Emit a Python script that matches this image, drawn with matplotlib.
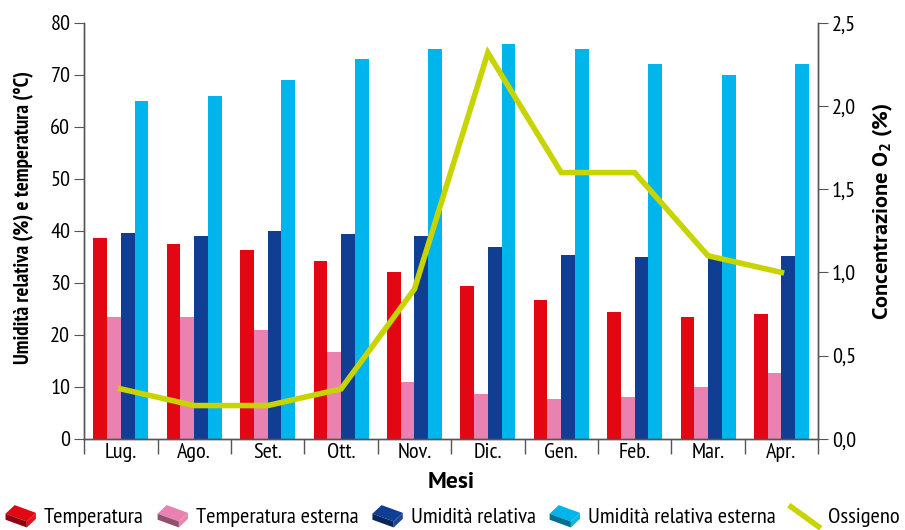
import matplotlib
matplotlib.use("Agg")
import matplotlib.pyplot as plt
import numpy as np
from matplotlib.legend_handler import HandlerBase
from matplotlib.patches import Polygon, Patch
from matplotlib.lines import Line2D
from matplotlib import colors as mcolors

plt.rcParams['font.family'] = ['PT Sans Narrow', 'DejaVu Sans']
plt.rcParams['mathtext.fontset'] = 'custom'
plt.rcParams['mathtext.rm'] = 'PT Sans'
plt.rcParams['mathtext.bf'] = 'PT Sans:bold'

months = ["Lug.", "Ago.", "Set.", "Ott.", "Nov.", "Dic.", "Gen.", "Feb.", "Mar.", "Apr."]
temperatura = [38.7, 37.5, 36.3, 34.2, 32.1, 29.4, 26.7, 24.4, 23.5, 24.0]
temp_esterna = [23.5, 23.5, 21.0, 16.7, 11.0, 8.7, 7.7, 8.1, 10.0, 12.7]
umidita = [39.6, 39.0, 40.0, 39.4, 39.0, 36.9, 35.4, 35.0, 35.0, 35.2]
umidita_esterna = [65, 66, 69, 73, 75, 76, 75, 72, 70, 72]
ossigeno = [0.3, 0.2, 0.2, 0.3, 0.9, 2.32, 1.6, 1.6, 1.1, 1.0]

labels = ["Temperatura", "Temperatura esterna", "Umidità relativa", "Umidità relativa esterna"]
cols = ["#e30613", "#ea82b1", "#0f3e92", "#00b5ec"]
line_col = "#c8d400"

FS = 16

fig = plt.figure(figsize=(9.05, 5.3), dpi=100)
ax = fig.add_axes([0.093, 0.172, 0.811, 0.785])
ax2 = ax.twinx()

x = np.arange(len(months))
w = 0.1875
series = [temperatura, temp_esterna, umidita, umidita_esterna]
for i, (s, c) in enumerate(zip(series, cols)):
    ax.bar(x + (i - 1.5) * w, s, width=w, color=c, edgecolor='none', zorder=2)

ax2.plot(x, ossigeno, color=line_col, lw=4, zorder=3, solid_joinstyle='miter')

ax.set_xlim(-0.5, len(months) - 0.5)
ax.set_ylim(0, 80)
ax2.set_ylim(0, 2.5)
ax.set_yticks(np.arange(0, 81, 10))
ax2.set_yticks(np.arange(0, 2.51, 0.5))
ax2.set_yticklabels([f"{v:.1f}".replace('.', ',') for v in np.arange(0, 2.51, 0.5)])

ax.set_xticks(x)
ax.set_xticklabels(months)
ax.set_xticks(np.arange(-0.5, len(months)), minor=True)
ax.tick_params(axis='x', which='major', length=0, labelsize=FS, pad=3)
ax.tick_params(axis='x', which='minor', length=11, width=1, color='#555555')
ax.tick_params(axis='y', length=7, labelsize=FS, color='#555555', pad=3)
ax2.tick_params(axis='y', length=7, labelsize=FS, color='#555555', pad=3)

for a in (ax, ax2):
    a.spines['top'].set_visible(False)
    for sp in ('left', 'right', 'bottom'):
        a.spines[sp].set_color('#555555')
        a.spines[sp].set_linewidth(1)

ax.set_xlabel("Mesi", fontsize=17, fontweight='bold', labelpad=7, family=['PT Sans', 'DejaVu Sans'])
ax.set_ylabel("Umidità relativa (%) e temperatura (°C)", fontsize=15, fontweight='bold')
ax.yaxis.set_label_coords(-0.068, 0.531)
ax2.set_ylabel(r"Concentrazione O$_\mathbf{2}$ (%)", fontsize=16, fontweight='bold',
               family=['PT Sans', 'DejaVu Sans'])
ax2.yaxis.set_label_coords(1.071, 0.548)


class BoxHandler(HandlerBase):
    def create_artists(self, legend, orig_handle, xdescent, ydescent, width, height, fontsize, trans):
        c = np.array(mcolors.to_rgb(orig_handle.get_facecolor()))
        dark = c * 0.62
        light = np.clip(c * 0.92 + 0.06, 0, 1)
        x0, y0 = -xdescent, -ydescent
        W, H = width, height
        top = Polygon([[x0, y0 + 0.6 * H], [x0 + 0.3 * W, y0 + 1.1 * H],
                       [x0 + W, y0 + 0.65 * H], [x0 + 0.7 * W, y0 + 0.15 * H]],
                      closed=True, facecolor=c, edgecolor='none', transform=trans)
        left = Polygon([[x0, y0 + 0.6 * H], [x0 + 0.7 * W, y0 + 0.15 * H],
                        [x0 + 0.7 * W, y0 - 0.2 * H], [x0, y0 + 0.25 * H]],
                       closed=True, facecolor=dark, edgecolor='none', transform=trans)
        right = Polygon([[x0 + 0.7 * W, y0 + 0.15 * H], [x0 + W, y0 + 0.65 * H],
                         [x0 + W, y0 + 0.3 * H], [x0 + 0.7 * W, y0 - 0.2 * H]],
                        closed=True, facecolor=light, edgecolor='none', transform=trans)
        return [top, left, right]


class DiagLineHandler(HandlerBase):
    def create_artists(self, legend, orig_handle, xdescent, ydescent, width, height, fontsize, trans):
        x0, y0 = -xdescent, -ydescent
        ln = Line2D([x0 + 0.05 * width, x0 + 0.95 * width], [y0 + height * 1.0, y0 - 0.15 * height],
                    color=line_col, lw=4, transform=trans)
        return [ln]


handles = [Patch(facecolor=c) for c in cols] + [Line2D([], [], color=line_col)]
hmap = {h: BoxHandler() for h in handles[:4]}
hmap[handles[4]] = DiagLineHandler()
fig.legend(handles, labels + ["Ossigeno"], handler_map=hmap, loc='lower center',
           bbox_to_anchor=(0.5, -0.033), ncol=5, frameon=False, fontsize=16.2,
           handlelength=1.35, handleheight=0.8, handletextpad=0.35, columnspacing=0.62)

fig.savefig("out.png", dpi=100)
